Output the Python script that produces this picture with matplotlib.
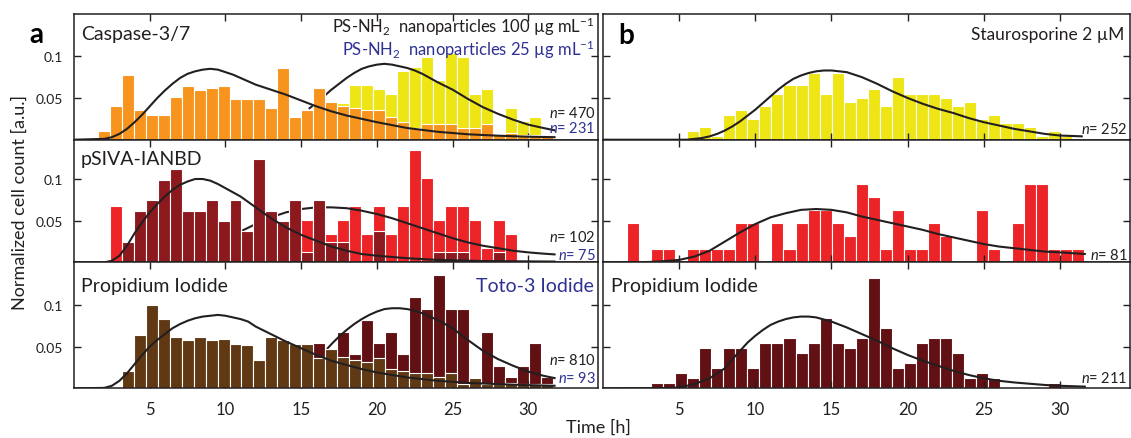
import numpy as np
import matplotlib
matplotlib.use('Agg')
import matplotlib.pyplot as plt

plt.rcParams['font.family'] = ['Lato', 'DejaVu Sans']
plt.rcParams['mathtext.fontset'] = 'custom'
plt.rcParams['mathtext.rm'] = 'Lato'
plt.rcParams['mathtext.it'] = 'Lato:italic'
plt.rcParams['mathtext.bf'] = 'Lato:bold'

# histogram bins: 0.79 h wide, bins 2..39
bin_w = 0.79
bin_k = np.arange(2, 40)
t = (bin_k + 0.5) * bin_w

# cell counts per bin (k = 2 .. 39)
casp_100 = [4, 15, 29, 13, 11, 11, 19, 24, 22, 23, 24, 18, 18, 18, 14, 32, 10, 13, 23, 17,
            15, 14, 13, 13, 10, 8, 5, 7, 7, 7, 5, 5, 7, 2, 3, 2, 2, 1]
casp_25 = [0] * 14 + [3, 2, 2, 3, 5, 6, 8, 12, 12, 11, 10, 15, 16, 18, 13, 19, 18, 10, 11, 1,
                     7, 4, 5, 0]
psiva_100 = [0, 0, 2, 5, 6, 8, 9, 5, 5, 6, 4, 6, 3, 10, 5, 4, 6, 1, 6, 2,
             2, 0, 0, 3, 0, 0, 0, 0, 1, 1, 1, 0, 0, 1, 0, 0, 0, 0]
psiva_25 = [0, 4] + [0] * 11 + [3, 3, 0, 3, 3, 4, 2, 3, 4, 2, 4, 2, 4, 8, 6, 3, 4, 4, 3, 1,
                               3, 2, 0, 0, 0]
pi_100 = [0, 0, 13, 41, 64, 53, 39, 37, 39, 37, 38, 34, 33, 22, 39, 37, 34, 34, 23, 30,
          24, 22, 20, 23, 15, 13, 12, 12, 9, 12, 3, 8, 3, 3, 4, 3, 3, 3]
toto_25 = [0] * 14 + [1, 1, 2, 2, 4, 3, 5, 3, 6, 4, 5, 3, 8, 7, 10, 7, 7, 0, 5, 2,
                     1, 2, 4, 1]
stau_casp = [0, 0, 0, 0, 0, 2, 3, 1, 6, 7, 5, 8, 11, 13, 13, 16, 11, 16, 9, 10,
             12, 8, 15, 11, 11, 11, 10, 8, 9, 5, 6, 4, 4, 3, 1, 2, 1, 0]
stau_psiva = [3, 0, 1, 1, 0, 1, 1, 1, 1, 3, 3, 0, 3, 1, 3, 4, 4, 3, 2, 6,
              5, 1, 4, 1, 1, 3, 2, 0, 0, 4, 1, 0, 3, 6, 6, 1, 1, 1]
stau_pi = [0, 0, 1, 1, 3, 2, 8, 4, 8, 8, 4, 9, 9, 10, 7, 9, 14, 9, 8, 10,
           22, 12, 4, 5, 9, 10, 10, 7, 2, 3, 2, 0, 0, 0, 0, 1, 0, 0]

n_casp_100, n_casp_25 = 470, 231
n_psiva_100, n_psiva_25 = 102, 75
n_pi_100, n_toto_25 = 810, 93
n_stau_casp, n_stau_psiva, n_stau_pi = 252, 81, 211

# fitted curves (time [h], normalized count)
fit_casp_100_t = [0, 2.0, 2.5, 3.0, 3.5, 4.0, 4.5, 5.0, 5.5, 6.0, 6.5, 7.0, 7.5, 8.0, 8.5, 9.0,
                  9.5, 10.0, 10.5, 11.0, 11.5, 12.0, 13.0, 14.0, 15.0, 16.0, 17.0, 18.0, 19.0,
                  20.0, 22.0, 24.0, 26.0, 28.0, 30.0, 31.8]
fit_casp_100_y = [0, 0.001, 0.003, 0.007, 0.013, 0.021, 0.030, 0.040, 0.050, 0.059, 0.067,
                  0.074, 0.079, 0.082, 0.084, 0.085, 0.084, 0.081, 0.078, 0.074, 0.070, 0.066,
                  0.060, 0.054, 0.047, 0.040, 0.034, 0.029, 0.025, 0.021, 0.014, 0.0095,
                  0.0065, 0.0048, 0.0036, 0.003]
fit_casp_25_t = [15.5, 16, 16.5, 17, 17.5, 18, 18.5, 19, 19.5, 20, 20.5, 21, 21.5, 22, 22.5,
                 23, 24, 25, 26, 27, 28, 29, 30, 31, 31.8]
fit_casp_25_y = [0.037, 0.044, 0.052, 0.060, 0.067, 0.074, 0.080, 0.085, 0.088, 0.090, 0.091,
                 0.090, 0.088, 0.086, 0.083, 0.079, 0.069, 0.060, 0.049, 0.039, 0.031, 0.024,
                 0.018, 0.014, 0.011]
fit_psiva_100_t = [0, 2.0, 2.5, 3.0, 3.5, 4.0, 4.5, 5.0, 5.5, 6.0, 6.5, 7.0, 7.5, 8.0, 8.5,
                   9.0, 9.5, 10.0, 10.5, 11, 12, 13, 14, 15, 16, 17, 18, 19, 20, 22, 24, 27,
                   31.8]
fit_psiva_100_y = [0, 0.0, 0.002, 0.008, 0.020, 0.035, 0.048, 0.060, 0.070, 0.079, 0.087,
                   0.093, 0.097, 0.100, 0.100, 0.098, 0.094, 0.089, 0.084, 0.079, 0.066,
                   0.053, 0.042, 0.033, 0.026, 0.019, 0.014, 0.010, 0.008, 0.005, 0.003,
                   0.0016, 0.001]
fit_psiva_25_t = [11.1, 12, 13, 14, 15, 16, 17, 18, 19, 20, 21, 22, 23, 24, 25, 26, 27, 28,
                  29, 30, 31, 31.8]
fit_psiva_25_y = [0.038, 0.046, 0.054, 0.060, 0.064, 0.066, 0.066, 0.065, 0.062, 0.058, 0.053,
                  0.047, 0.041, 0.035, 0.029, 0.024, 0.020, 0.017, 0.014, 0.012, 0.0105,
                  0.0095]
fit_pi_100_t = [0, 2.0, 2.5, 3.0, 3.5, 4.0, 4.5, 5.0, 5.5, 6.0, 6.5, 7.0, 7.5, 8.0, 8.5, 9.0,
                9.5, 10.0, 10.5, 11, 11.5, 12, 13, 14, 15, 16, 17, 18, 19, 20, 22, 24, 26,
                28, 30, 31.8]
fit_pi_100_y = [0, 0.0005, 0.003, 0.009, 0.018, 0.029, 0.040, 0.050, 0.058, 0.065, 0.072,
                0.077, 0.081, 0.084, 0.086, 0.087, 0.088, 0.087, 0.085, 0.083, 0.080, 0.074,
                0.065, 0.056, 0.048, 0.040, 0.033, 0.028, 0.023, 0.019, 0.013, 0.009, 0.0065,
                0.005, 0.0038, 0.003]
fit_toto_25_t = [16.7, 17, 17.5, 18, 18.5, 19, 19.5, 20, 20.5, 21, 21.5, 22, 22.5, 23, 23.5,
                 24, 25, 26, 27, 28, 29, 30, 31, 31.8]
fit_toto_25_y = [0.047, 0.053, 0.062, 0.070, 0.077, 0.083, 0.088, 0.092, 0.095, 0.096, 0.096,
                 0.095, 0.093, 0.090, 0.086, 0.082, 0.072, 0.058, 0.045, 0.035, 0.027, 0.020,
                 0.015, 0.012]
fit_stau_casp_t = [0, 5.5, 6, 6.5, 7, 7.5, 8, 8.5, 9, 9.5, 10, 10.5, 11, 11.5, 12, 12.5, 13,
                   13.5, 14, 14.5, 15, 15.5, 16, 16.5, 17, 17.5, 18, 19, 20, 21, 22, 23, 24,
                   25, 26, 27, 28, 29, 30, 31.5]
fit_stau_casp_y = [0, 0.0, 0.001, 0.002, 0.004, 0.007, 0.011, 0.016, 0.022, 0.029, 0.036,
                   0.044, 0.052, 0.060, 0.067, 0.073, 0.077, 0.080, 0.082, 0.083, 0.083,
                   0.082, 0.081, 0.078, 0.075, 0.071, 0.067, 0.058, 0.050, 0.043, 0.037,
                   0.032, 0.026, 0.021, 0.017, 0.013, 0.010, 0.007, 0.005, 0.004]
fit_stau_psiva_t = [0, 3, 4, 5, 6, 7, 8, 9, 10, 11, 12, 13, 14, 15, 16, 17, 18, 19, 20, 21,
                    22, 23, 24, 25, 26, 27, 28, 29, 30, 31.7]
fit_stau_psiva_y = [0, 0.0005, 0.0015, 0.003, 0.007, 0.014, 0.025, 0.036, 0.046, 0.054,
                    0.059, 0.063, 0.064, 0.063, 0.060, 0.055, 0.051, 0.047, 0.043, 0.039,
                    0.034, 0.030, 0.026, 0.022, 0.019, 0.017, 0.015, 0.013, 0.012, 0.010]
fit_stau_pi_t = [0, 4, 5, 6, 7, 8, 8.5, 9, 9.5, 10, 10.5, 11, 11.5, 12, 12.5, 13, 13.5, 14,
                 15, 16, 17, 18, 19, 20, 21, 22, 23, 24, 25, 26, 27, 28, 29, 30, 31.7]
fit_stau_pi_y = [0, 0.0003, 0.001, 0.005, 0.012, 0.024, 0.035, 0.045, 0.055, 0.063, 0.070,
                 0.076, 0.080, 0.083, 0.085, 0.086, 0.086, 0.085, 0.080, 0.073, 0.065, 0.057,
                 0.048, 0.040, 0.033, 0.027, 0.021, 0.016, 0.012, 0.009, 0.007, 0.0055,
                 0.004, 0.003, 0.002]

c_orange = '#F7941D'
c_yellow = '#EEE614'
c_darkred = '#8C191E'
c_red = '#EC2327'
c_brown = '#603914'
c_maroon = '#611014'
c_blue = '#2E3192'
c_line = '#231F20'

W, H = 1131, 439
fig = plt.figure(figsize=(W / 100, H / 100), dpi=100)

rows = [(15.3, 140.7), (140.7, 263.4), (263.4, 389.3)]
cols = [(74, 598), (603, 1130)]


def make_axes(col, row):
    x0, x1 = cols[col]
    y0, y1 = rows[row]
    ax = fig.add_axes([x0 / W, 1 - y1 / H, (x1 - x0) / W, (y1 - y0) / H])
    ax.set_xlim(0, 34.6)
    ax.set_ylim(0, (y1 - y0) / 834)
    ax.set_xticks([5, 10, 15, 20, 25, 30])
    ax.set_yticks([0.05, 0.1])
    ax.set_yticklabels(['0.05', '0.1'])
    ax.tick_params(direction='in', length=5, width=1, top=True, right=True, colors=c_line)
    ax.tick_params(axis='x', labelsize=12, pad=9, labelbottom=(row == 2))
    ax.tick_params(axis='y', labelsize=10, pad=8, labelleft=(col == 0))
    for s in ax.spines.values():
        s.set_linewidth(1.1)
        s.set_color(c_line)
        s.set_zorder(10)
    return ax


def bars(ax, counts, n, color, z):
    dens = np.array(counts) / (n * bin_w)
    m = dens > 0
    ax.bar(t[m], dens[m], width=bin_w, color=color, edgecolor='white', linewidth=0.8, zorder=z)


def fit(ax, x, y, z):
    ax.plot(x, y, color=c_line, lw=1.5, zorder=z, solid_capstyle='butt', solid_joinstyle='round')


def n_label(ax, n, y, color, x=0.996):
    ax.text(x, y, f'$n$= {n}', transform=ax.transAxes, ha='right', va='center',
            fontsize=10.5, color=color, zorder=20)


def panel_title(ax, s, x=0.013, y=0.85, ha='left', color='#231F20', size=14):
    ax.text(x, y, s, transform=ax.transAxes, ha=ha, va='center', fontsize=size,
            color=color, zorder=20)


# a: Caspase-3/7
ax = make_axes(0, 0)
bars(ax, casp_25, n_casp_25, c_yellow, 1)
fit(ax, fit_casp_25_t, fit_casp_25_y, 2)
bars(ax, casp_100, n_casp_100, c_orange, 3)
fit(ax, fit_casp_100_t, fit_casp_100_y, 4)
panel_title(ax, 'Caspase-3/7')
ax.text(0.993, 0.905, 'PS-NH$_2$  nanoparticles 100 µg mL$^{-1}$', transform=ax.transAxes,
        ha='right', va='center', fontsize=12, color='#231F20')
ax.text(0.993, 0.725, 'PS-NH$_2$  nanoparticles 25 µg mL$^{-1}$', transform=ax.transAxes,
        ha='right', va='center', fontsize=12, color=c_blue)
n_label(ax, n_casp_100, 0.22, '#231F20')
n_label(ax, n_casp_25, 0.10, c_blue)

# a: pSIVA-IANBD
ax = make_axes(0, 1)
bars(ax, psiva_25, n_psiva_25, c_red, 1)
fit(ax, fit_psiva_25_t, fit_psiva_25_y, 2)
bars(ax, psiva_100, n_psiva_100, c_darkred, 3)
fit(ax, fit_psiva_100_t, fit_psiva_100_y, 4)
panel_title(ax, 'pSIVA-IANBD')
n_label(ax, n_psiva_100, 0.215, '#231F20')
n_label(ax, n_psiva_25, 0.065, c_blue)

# a: Propidium Iodide / Toto-3 Iodide
ax = make_axes(0, 2)
bars(ax, toto_25, n_toto_25, c_maroon, 1)
fit(ax, fit_toto_25_t, fit_toto_25_y, 2)
bars(ax, pi_100, n_pi_100, c_brown, 3)
fit(ax, fit_pi_100_t, fit_pi_100_y, 4)
panel_title(ax, 'Propidium Iodide', y=0.82)
panel_title(ax, 'Toto-3 Iodide', x=0.993, y=0.82, ha='right', color=c_blue)
n_label(ax, n_pi_100, 0.227, '#231F20')
n_label(ax, n_toto_25, 0.082, c_blue)

# b: staurosporine
ax = make_axes(1, 0)
bars(ax, stau_casp, n_stau_casp, c_yellow, 1)
fit(ax, fit_stau_casp_t, fit_stau_casp_y, 2)
ax.text(0.989, 0.843, 'Staurosporine 2 µM', transform=ax.transAxes, ha='right',
        va='center', fontsize=12.5, color='#231F20')
n_label(ax, n_stau_casp, 0.09, '#231F20')

ax = make_axes(1, 1)
bars(ax, stau_psiva, n_stau_psiva, c_red, 1)
fit(ax, fit_stau_psiva_t, fit_stau_psiva_y, 2)
n_label(ax, n_stau_psiva, 0.068, '#231F20')

ax = make_axes(1, 2)
bars(ax, stau_pi, n_stau_pi, c_maroon, 1)
fit(ax, fit_stau_pi_t, fit_stau_pi_y, 2)
panel_title(ax, 'Propidium Iodide', x=0.015, y=0.82)
n_label(ax, n_stau_pi, 0.082, '#231F20')

fig.text(36 / W, 1 - 35 / H, 'a', fontsize=20, fontweight='bold', ha='center', va='center')
fig.text(626 / W, 1 - 36 / H, 'b', fontsize=20, fontweight='bold', ha='center', va='center')
fig.text(20 / W, 1 - 202 / H, 'Normalized cell count [a.u.]', rotation=90, fontsize=13,
         ha='center', va='center', color='#231F20')
fig.text(598 / W, 1 - 428 / H, 'Time [h]', fontsize=13, ha='center', va='center',
         color='#231F20')

fig.savefig('out.png', dpi=100)
